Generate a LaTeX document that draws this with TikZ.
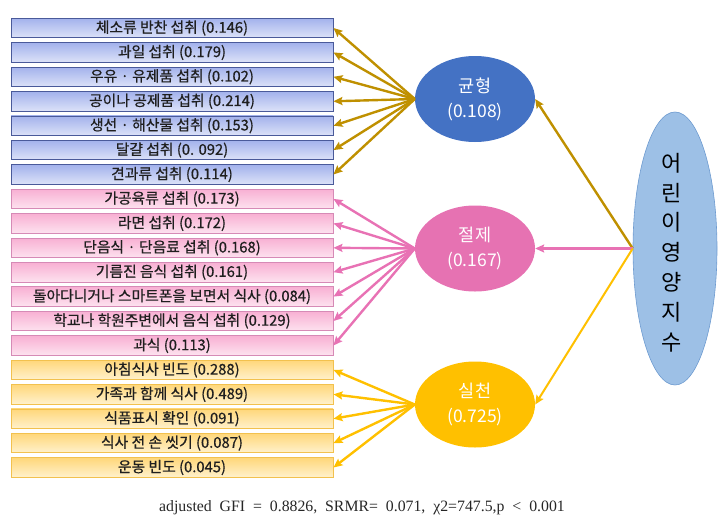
\documentclass[tikz,border=0pt]{standalone}
\usepackage{fontspec}
\setmainfont{Liberation Serif}
\newfontfamily\kr{Noto Sans CJK KR}
\newfontfamily\krb[FakeBold=0.6]{Noto Sans CJK KR}
\usetikzlibrary{shapes.geometric,arrows.meta}
\definecolor{goldln}{HTML}{BF9000}
\definecolor{pinkln}{HTML}{E872B4}
\definecolor{yelln}{HTML}{FFC000}
\definecolor{bluefill}{HTML}{4472C4}
\definecolor{pinkfill}{HTML}{E672B2}
\definecolor{yelfill}{HTML}{FFC000}
\definecolor{bigfill}{HTML}{9DC0E6}
\definecolor{bigline}{HTML}{6E9BD0}
\definecolor{bboxtop}{HTML}{A3B2EC}
\definecolor{bboxbot}{HTML}{DCE2F8}
\definecolor{bboxln}{HTML}{4A5A9A}
\definecolor{pboxtop}{HTML}{F8B0D3}
\definecolor{pboxbot}{HTML}{FDE2EF}
\definecolor{pboxln}{HTML}{D68AB6}
\definecolor{yboxtop}{HTML}{FFD77A}
\definecolor{yboxbot}{HTML}{FFF1CC}
\definecolor{yboxln}{HTML}{F2C14E}
\tikzset{
  box/.style={draw, line width=0.9pt, minimum width=322pt, minimum height=19.5pt, inner sep=0pt,
    font=\krb\fontsize{14.8}{16}\selectfont, text=black!88},
  bbox/.style={box, draw=bboxln, top color=bboxtop, bottom color=bboxbot},
  pbox/.style={box, draw=pboxln, top color=pboxtop, bottom color=pboxbot},
  ybox/.style={box, draw=yboxln, top color=yboxtop, bottom color=yboxbot},
  factor/.style={ellipse, minimum width=120pt, minimum height=86pt, inner sep=0pt, align=center,
    text=white, font=\kr\fontsize{17.5}{25}\selectfont},
  conn/.style={line width=2.4pt, -{Stealth[length=9pt,width=8pt,inset=1.5pt]}},
  gconn/.style={conn, draw=goldln},
  pconn/.style={conn, draw=pinkln},
  yconn/.style={conn, draw=yelln}
}
\begin{document}
\begin{tikzpicture}[x=1pt,y=-1pt]
\useasboundingbox (0,0) rectangle (723,517);
% boxes
\node[bbox] (b1)  at (172,28.0)  {체소류 반찬 섭취 (0.146)};
\node[bbox] (b2)  at (172,52.4)  {과일 섭취 (0.179)};
\node[bbox] (b3)  at (172,76.8)  {우유 · 유제품 섭취 (0.102)};
\node[bbox] (b4)  at (172,101.3) {공이나 공제품 섭취 (0.214)};
\node[bbox] (b5)  at (172,125.7) {생선 · 해산물 섭취 (0.153)};
\node[bbox] (b6)  at (172,150.1) {달걀 섭취 (0. 092)};
\node[bbox] (b7)  at (172,174.5) {견과류 섭취 (0.114)};
\node[pbox] (b8)  at (172,198.9) {가공육류 섭취 (0.173)};
\node[pbox] (b9)  at (172,223.4) {라면 섭취 (0.172)};
\node[pbox] (b10) at (172,247.8) {단음식 · 단음료 섭취 (0.168)};
\node[pbox] (b11) at (172,272.2) {기름진 음식 섭취 (0.161)};
\node[pbox] (b12) at (172,296.6) {돌아다니거나 스마트폰을 보면서 식사 (0.084)};
\node[pbox] (b13) at (172,321.0) {학교나 학원주변에서 음식 섭취 (0.129)};
\node[pbox] (b14) at (172,345.5) {과식 (0.113)};
\node[ybox] (b15) at (172,369.9) {아침식사 빈도 (0.288)};
\node[ybox] (b16) at (172,394.3) {가족과 함께 식사 (0.489)};
\node[ybox] (b17) at (172,418.7) {식품표시 확인 (0.091)};
\node[ybox] (b18) at (172,443.1) {식사 전 손 씻기 (0.087)};
\node[ybox] (b19) at (172,467.5) {운동 빈도 (0.045)};
% factors
\node[factor, fill=bluefill] (g) at (475,99) {균형\\(0.108)};
\node[factor, fill=pinkfill] (p) at (475,248.5) {절제\\(0.167)};
\node[factor, fill=yelfill] (y) at (475,404.5) {실천\\(0.725)};
% big ellipse
\node[ellipse, draw=bigline, line width=0.6pt, fill=bigfill, minimum width=84pt, minimum height=273pt, inner sep=0pt] (big) at (675,248.5) {};
\node[align=center, font=\kr\fontsize{22}{29.8}\selectfont, text=black] (bigtext) at (672,252.5) {어\\린\\이\\영\\양\\지\\수};
% connectors
\foreach \i in {1,...,7} \draw[gconn] (g.west) -- (b\i.east);
\foreach \i in {8,...,14} \draw[pconn] (p.west) -- (b\i.east);
\foreach \i in {15,...,19} \draw[yconn] (y.west) -- (b\i.east);
\draw[gconn] (big.west) -- (g.east);
\draw[pconn] (big.west) -- (p.east);
\draw[yconn, line width=2pt] (big.west) -- (y.east);
% caption
\node[font=\fontsize{15.8}{17}\selectfont, text=black!85] (cap) at (362,508) {adjusted\ \ GFI\ \ =\ \ 0.8826,\ \ SRMR=\ \ 0.071,\ \ χ2=747.5,p\ \ <\ \ 0.001};
\end{tikzpicture}
\end{document}
